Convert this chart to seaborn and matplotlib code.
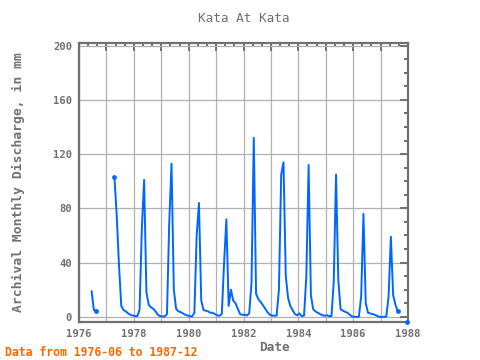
import numpy as np
import pandas as pd
import matplotlib
matplotlib.use("Agg")
import matplotlib.pyplot as plt
import seaborn as sns
from matplotlib.ticker import MultipleLocator, FuncFormatter

nan = np.nan

# monthly discharge (mm), 1976-06 .. 1987-12
q1976 = [19, 5, 4.5, nan, nan, nan, nan]  # Jun-Dec
q1977 = [nan, nan, nan, 103, 75, 38, 8, 5, 4, 2.5, 1.5, 1]
q1978 = [0.5, 0.5, 5, 65, 101, 18, 9, 7, 6, 4, 1.5, 0.5]
q1979 = [0.3, 0.3, 2, 70, 113, 20, 6, 4, 3.5, 2.5, 1.5, 1]
q1980 = [0.5, 0.3, 3, 60, 84, 12, 5, 4.5, 4, 3, 3, 2]
q1981 = [1, 0.8, 2, 40, 72, 8, 20, 12, 10, 6, 2, 1.5]
q1982 = [1.5, 1, 2.5, 25, 132, 17, 13, 11, 8.5, 6, 3.5, 1.5]
q1983 = [1, 0.8, 1, 20, 105, 114, 30, 14, 8, 5, 2, 1.2]
q1984 = [2.5, 0.5, 1, 30, 112, 16, 5.5, 4, 3, 2, 1.2, 0.8]
q1985 = [1.2, 0.5, 0.5, 26, 105, 27, 5.5, 4.5, 3.7, 3, 1.5, 0.3]
q1986 = [0, 0, 0, 15, 76, 10, 3, 2.5, 2, 1.5, 0.7, 0]
q1987 = [0, 0, 0.3, 15, 59, 16, 9, 4, nan, nan, nan, -3.5]

discharge = (q1976 + q1977 + q1978 + q1979 + q1980 + q1981 + q1982
             + q1983 + q1984 + q1985 + q1986 + q1987)
months = pd.period_range("1976-06", "1987-12", freq="M")

df = pd.DataFrame({"year": months.year, "month": months.month, "q": discharge})
df["t"] = df["year"] + (df["month"] - 0.5) / 12
df["seg"] = df["q"].isna().cumsum()

# dots where a run of data meets a gap
valid = df["q"].notna()
prev_nan = ~valid.shift(1, fill_value=True)
next_nan = ~valid.shift(-1, fill_value=False)
ends = df[valid & (prev_nan | next_nan)]

blue = "#0066ff"
gray = "#707070"

sns.set_theme(style="white")
plt.rcParams["font.family"] = ["DejaVu Sans Mono"]

fig = plt.figure(figsize=(4.8, 3.6), dpi=100)
ax = fig.add_axes([0.1646, 0.106, 0.6854, 0.7746])

sns.lineplot(data=df.dropna(), x="t", y="q", units="seg", estimator=None,
             sort=False, color=blue, lw=1.4, ax=ax)
sns.scatterplot(data=ends, x="t", y="q", color=blue, s=12, linewidth=0,
                ax=ax, clip_on=False, zorder=5)

ax.set_xlim(1976, 1988)
ax.set_ylim(-3.7, 202)
ax.xaxis.set_major_locator(MultipleLocator(1))
ax.xaxis.set_minor_locator(MultipleLocator(1 / 3))
ax.xaxis.set_major_formatter(FuncFormatter(lambda v, p: f"{int(round(v))}" if round(v) % 2 == 0 else ""))
ax.yaxis.set_major_locator(MultipleLocator(40))
ax.yaxis.set_minor_locator(MultipleLocator(10))

ax.tick_params(which="both", direction="in", top=True, right=True,
               color=gray, width=1.4, labelsize=7.6, labelcolor=gray, pad=5)
ax.tick_params(which="major", length=5.5)
ax.tick_params(which="minor", length=3)
for lab in ax.get_xticklabels() + ax.get_yticklabels():
    lab.set_fontweight("bold")

ax.grid(which="major", color="#b0b0b0", lw=0.9)
for s in ax.spines.values():
    s.set_color(gray)
    s.set_linewidth(1.6)

ax.set_xlabel("")
ax.set_ylabel("")
fig.text(0.508, 0.95, "Kata At Kata", ha="center", va="center", fontsize=9.2, color=gray)
fig.text(0.572, 0.036, "Date", ha="center", va="center", fontsize=9.2,
         color=gray, fontweight="bold")
fig.text(0.0375, 0.493, "Archival Monthly Discharge, in mm", ha="center", va="center",
         rotation=90, fontsize=9.4, color=gray, fontweight="bold")
fig.text(0.0104, 0.022, "Data from 1976-06 to 1987-12", ha="left", va="center",
         fontsize=8.3, color="#ff6600", fontweight="bold")

fig.savefig("out.png", dpi=100)
